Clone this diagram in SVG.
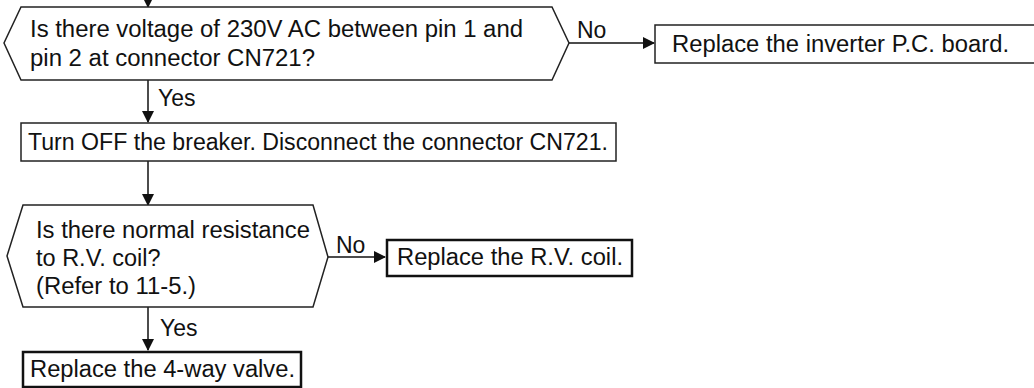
<svg xmlns="http://www.w3.org/2000/svg" width="1034" height="388" viewBox="0 0 1034 388">
<defs>
<style>
text{font-family:"Liberation Sans",Arial,sans-serif;font-size:23.5px;fill:#111}
.l{font-size:23px}
.s{fill:#fff;stroke:#222;stroke-width:1.5}
.b{fill:#fff;stroke:#111;stroke-width:2.5}
.c{stroke:#111;stroke-width:1.5;fill:none}
</style>
<marker id="ah" markerWidth="12" markerHeight="12" refX="11" refY="6" orient="auto" markerUnits="userSpaceOnUse"><path d="M0,0 L12,6 L0,12 Z" fill="#111"/></marker>
</defs>
<g id="connectors">
<line class="c" x1="148" y1="0" x2="148" y2="7" marker-end="url(#ah)"/>
<line class="c" x1="569" y1="43" x2="654" y2="43" marker-end="url(#ah)"/>
<text class="l" x="577" y="38">No</text>
<line class="c" x1="148" y1="80" x2="148" y2="122" marker-end="url(#ah)"/>
<text class="l" x="158" y="106">Yes</text>
<line class="c" x1="148" y1="161" x2="148" y2="205" marker-end="url(#ah)"/>
<line class="c" x1="328" y1="257" x2="385" y2="257" marker-end="url(#ah)"/>
<text class="l" x="336" y="253">No</text>
<line class="c" x1="148" y1="307" x2="148" y2="350" marker-end="url(#ah)"/>
<text class="l" x="160" y="336">Yes</text>
</g>
<g id="q1">
<polygon class="s" points="21,7 552,7 569,43 552,80 21,80 4,43"/>
<text x="30" y="37" textLength="493" lengthAdjust="spacingAndGlyphs">Is there voltage of 230V AC between pin 1 and</text>
<text x="30" y="66" textLength="285" lengthAdjust="spacingAndGlyphs">pin 2 at connector CN721?</text>
</g>
<g id="replace-pcb">
<rect class="s" x="655" y="25" width="380" height="38"/>
<text x="672" y="52" textLength="337" lengthAdjust="spacingAndGlyphs">Replace the inverter P.C. board.</text>
</g>
<g id="turn-off">
<rect class="s" x="21" y="123" width="595" height="38"/>
<text x="28" y="150" textLength="580" lengthAdjust="spacingAndGlyphs">Turn OFF the breaker. Disconnect the connector CN721.</text>
</g>
<g id="q2">
<polygon class="s" points="23,205 313,205 328,257 313,307 23,307 7,256"/>
<text x="36" y="238" textLength="274" lengthAdjust="spacingAndGlyphs">Is there normal resistance</text>
<text x="36" y="266">to R.V. coil?</text>
<text x="36" y="294" textLength="160" lengthAdjust="spacingAndGlyphs">(Refer to 11-5.)</text>
</g>
<g id="replace-coil">
<rect class="b" x="387" y="240" width="245" height="36"/>
<text x="397" y="265" textLength="226" lengthAdjust="spacingAndGlyphs">Replace the R.V. coil.</text>
</g>
<g id="replace-valve">
<rect class="b" x="23" y="352" width="278" height="35"/>
<text x="30" y="377" textLength="265" lengthAdjust="spacingAndGlyphs">Replace the 4-way valve.</text>
</g>
</svg>
